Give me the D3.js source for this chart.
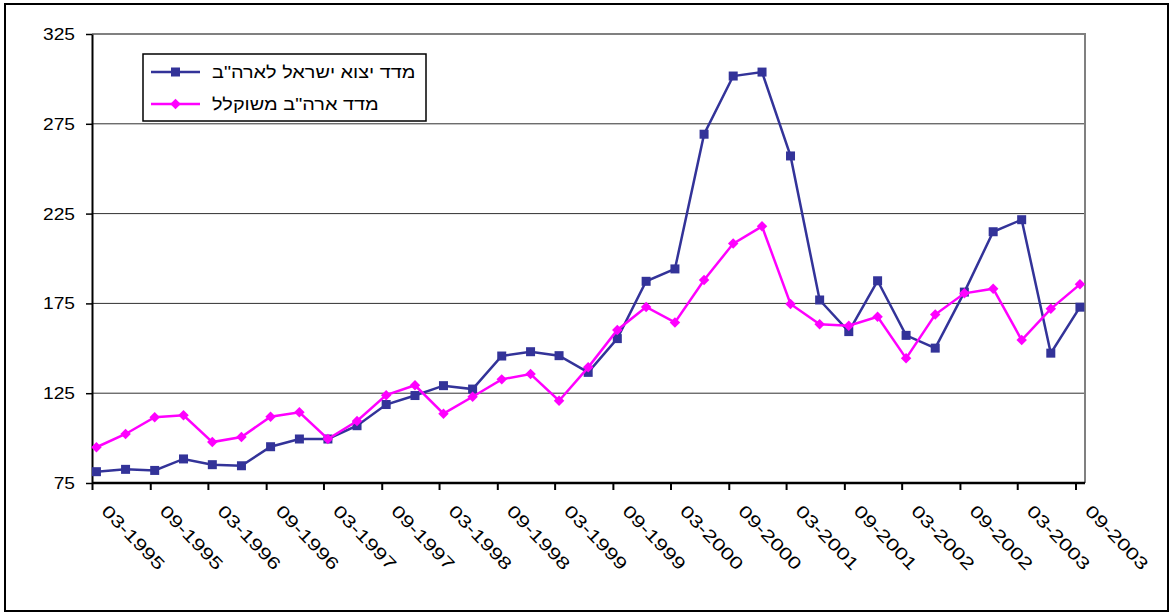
<!DOCTYPE html>
<html>
<head>
<meta charset="utf-8">
<script src="https://cdn.jsdelivr.net/npm/d3@7"></script>
<style>
  html, body { margin: 0; padding: 0; background: #fff; }
  svg { display: block; font-family: "Liberation Sans", Arial, sans-serif; }
</style>
</head>
<body>
<div id="chart"></div>
<script>
// quarterly periods (yyyy-mm)
const periods = [
  "1995-03", "1995-06", "1995-09", "1995-12",
  "1996-03", "1996-06", "1996-09", "1996-12",
  "1997-03", "1997-06", "1997-09", "1997-12",
  "1998-03", "1998-06", "1998-09", "1998-12",
  "1999-03", "1999-06", "1999-09", "1999-12",
  "2000-03", "2000-06", "2000-09", "2000-12",
  "2001-03", "2001-06", "2001-09", "2001-12",
  "2002-03", "2002-06", "2002-09", "2002-12",
  "2003-03", "2003-06", "2003-09"
];

// מדד יצוא ישראל לארה"ב
const exportIndex = [
  81.3, 82.6, 82.0, 88.4, 85.2, 84.6, 95.2, 99.5, 99.5, 106.9,
  118.7, 123.7, 129.2, 127.3, 145.7, 148.1, 145.9, 136.6, 155.4, 187.3,
  194.2, 269.2, 301.6, 303.8, 257.1, 176.9, 159.3, 187.6, 157.2, 150.1,
  181.3, 214.9, 221.6, 147.3, 172.9
];

// מדד ארה"ב משוקלל
const usIndex = [
  94.9, 102.3, 111.6, 112.7, 97.8, 100.6, 111.9, 114.4, 99.5, 109.5,
  123.9, 129.4, 113.6, 123.0, 132.7, 135.7, 120.8, 139.4, 160.2, 173.0,
  164.4, 188.0, 208.3, 217.9, 174.7, 163.4, 162.6, 167.6, 144.4, 168.8,
  180.6, 183.2, 154.6, 172.0, 185.6
];

const tickLabels = [
  "03-1995", "09-1995", "03-1996", "09-1996", "03-1997", "09-1997",
  "03-1998", "09-1998", "03-1999", "09-1999", "03-2000", "09-2000",
  "03-2001", "09-2001", "03-2002", "09-2002", "03-2003", "09-2003"
];

const yTicks = [75, 125, 175, 225, 275, 325];

const seriesNames = ["מדד יצוא ישראל לארה\"ב", "מדד ארה\"ב משוקלל"];

const width = 1172, height = 613;
const margin = { top: 34, right: 87, bottom: 130, left: 92 };

const parsePeriod = d3.timeParse("%Y-%m");
const parseTick = d3.timeParse("%m-%Y");
const pointDates = periods.map(p => d3.timeDay.offset(parsePeriod(p), 14));
const tickDates = tickLabels.map(parseTick);

const svg = d3.select("#chart").append("svg")
  .attr("width", width)
  .attr("height", height);

// outer frame
svg.append("rect")
  .attr("x", 5).attr("y", 4)
  .attr("width", 1163).attr("height", 607)
  .attr("fill", "#fff")
  .attr("stroke", "#000")
  .attr("stroke-width", 2);

const x = d3.scaleTime()
  .domain([parseTick("03-1995"), parseTick("10-2003")])
  .range([margin.left, width - margin.right]);

const y = d3.scaleLinear()
  .domain([75, 325])
  .range([height - margin.bottom, margin.top]);

// gridlines
svg.append("g")
  .selectAll("line")
  .data(yTicks.filter(v => v > 75 && v < 325))
  .join("line")
  .attr("x1", margin.left).attr("x2", width - margin.right)
  .attr("y1", d => y(d)).attr("y2", d => y(d))
  .attr("stroke", "#303030")
  .attr("stroke-width", 1);

// plot area border (top and right)
svg.append("path")
  .attr("d", `M${margin.left},${y(325)}H${width - margin.right}V${y(75)}`)
  .attr("fill", "none")
  .attr("stroke", "#808080")
  .attr("stroke-width", 2);

// y axis
const yAxis = svg.append("g")
  .attr("transform", `translate(${margin.left},0)`)
  .call(d3.axisLeft(y).tickValues(yTicks).tickSize(6).tickSizeOuter(0));
yAxis.select(".domain").attr("stroke", "#000").attr("stroke-width", 2);
yAxis.selectAll(".tick line").attr("stroke", "#000").attr("stroke-width", 1.5);
yAxis.selectAll(".tick text")
  .attr("font-size", 16)
  .attr("fill", "#000")
  .attr("x", null).attr("dy", null)
  .attr("dominant-baseline", "central")
  .attr("text-anchor", "end")
  .attr("transform", "translate(-17,0) scale(1.2,1)");

// x axis
const xAxis = svg.append("g")
  .attr("transform", `translate(0,${y(75)})`)
  .call(d3.axisBottom(x).tickValues(tickDates).tickSize(7).tickSizeOuter(0)
    .tickFormat((d, i) => tickLabels[i]));
xAxis.select(".domain").attr("stroke", "#000").attr("stroke-width", 2.5)
  .attr("d", `M${x.range()[0]},0H${x.range()[1]}`);
xAxis.selectAll(".tick line").attr("stroke", "#000").attr("stroke-width", 2);
xAxis.selectAll(".tick text")
  .attr("font-size", 17)
  .attr("fill", "#000")
  .attr("y", null).attr("dy", null)
  .attr("text-anchor", "start")
  .attr("transform", "translate(8,29) rotate(46) scale(1.32,1)");

const line = d3.line()
  .x((d, i) => x(pointDates[i]))
  .y(d => y(d));

// export series (squares)
svg.append("path")
  .datum(exportIndex)
  .attr("d", line)
  .attr("fill", "none")
  .attr("stroke", "#333399")
  .attr("stroke-width", 2.5);

svg.append("g")
  .selectAll("rect")
  .data(exportIndex)
  .join("rect")
  .attr("x", (d, i) => x(pointDates[i]) - 4.5)
  .attr("y", d => y(d) - 4.5)
  .attr("width", 9).attr("height", 9)
  .attr("fill", "#333399");

// US series (diamonds)
svg.append("path")
  .datum(usIndex)
  .attr("d", line)
  .attr("fill", "none")
  .attr("stroke", "#FF00FF")
  .attr("stroke-width", 2.5);

const diamond = d3.symbol().type(d3.symbolDiamond2).size(70);
svg.append("g")
  .selectAll("path")
  .data(usIndex)
  .join("path")
  .attr("d", diamond)
  .attr("transform", (d, i) => `translate(${x(pointDates[i])},${y(d)})`)
  .attr("fill", "#FF00FF");

// legend
const legend = svg.append("g").attr("transform", "translate(143,54)");
legend.append("rect")
  .attr("width", 283).attr("height", 67)
  .attr("fill", "#fff")
  .attr("stroke", "#000")
  .attr("stroke-width", 1.5);

const legendRows = [
  { name: seriesNames[0], color: "#333399", shape: "square" },
  { name: seriesNames[1], color: "#FF00FF", shape: "diamond" }
];

legendRows.forEach((r, i) => {
  const g = legend.append("g").attr("transform", `translate(0,${18 + i * 32})`);
  g.append("line")
    .attr("x1", 8).attr("x2", 57)
    .attr("stroke", r.color).attr("stroke-width", 2.5);
  if (r.shape === "square") {
    g.append("rect").attr("x", 28).attr("y", -4.5)
      .attr("width", 9).attr("height", 9).attr("fill", r.color);
  } else {
    g.append("path").attr("d", diamond)
      .attr("transform", "translate(32.5,0)").attr("fill", r.color);
  }
  g.append("text")
    .attr("transform", "translate(69,0) scale(1.17,1)")
    .attr("dominant-baseline", "central")
    .attr("font-size", 17)
    .attr("fill", "#000")
    .text(r.name);
});
</script>
</body>
</html>
